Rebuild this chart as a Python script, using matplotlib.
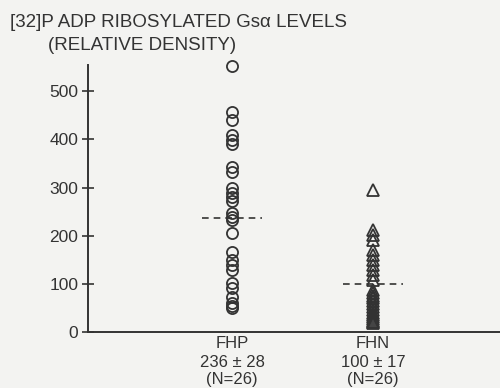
import matplotlib.pyplot as plt

# values (relative density)
groups = ["FHP", "FHN"]
stats = ["236 \u00b1 28", "100 \u00b1 17"]
counts = ["(N=26)", "(N=26)"]
means = [236, 100]

fhp = [552, 456, 440, 409, 398, 390, 342, 332, 299, 288, 280, 272, 247,
       239, 232, 205, 166, 149, 139, 129, 102, 91, 73, 60, 55, 50]
fhn = [295, 212, 201, 191, 170, 160, 149, 139, 129, 118, 108,
       88, 82, 76, 70, 64, 58, 52, 46, 40, 36, 32, 28, 24, 20, 18]

ink = "#333333"
plt.rcParams['font.family'] = ['Liberation Sans', 'DejaVu Sans']

fig = plt.figure(figsize=(5, 3.88), dpi=100)
fig.patch.set_facecolor("#f3f3f1")
ax = fig.add_axes([0.176, 0.144, 0.824, 0.688])
ax.set_facecolor("#f3f3f1")

ax.plot([1] * len(fhp), fhp, linestyle="none", marker="o", markersize=8,
        markerfacecolor="none", markeredgecolor=ink, markeredgewidth=1.3,
        clip_on=False)
ax.plot([2] * len(fhn), fhn, linestyle="none", marker="^", markersize=8,
        markerfacecolor="none", markeredgecolor=ink, markeredgewidth=1.3,
        clip_on=False)

for i, m in enumerate(means):
    ax.plot([i + 1 - 0.21, i + 1 + 0.21], [m, m], linestyle=(0, (4, 3)),
            color=ink, linewidth=1.2)

ax.set_xlim(-0.021, 2.90)
ax.set_ylim(0, 554)
ax.set_yticks([0, 100, 200, 300, 400, 500])
ax.tick_params(axis="y", direction="inout", length=8, width=1.2,
               colors=ink, labelsize=12.5, pad=3)
ax.set_xticks([])
for s in ["top", "right"]:
    ax.spines[s].set_visible(False)
for s in ["left", "bottom"]:
    ax.spines[s].set_color(ink)
    ax.spines[s].set_linewidth(1.4)

# three label rows under each group (x in data, y in axes fraction)
trans = ax.get_xaxis_transform()
row_y = [-0.041, -0.112, -0.178]
for i, g in enumerate(groups):
    rows = [g, stats[i], counts[i]]
    for k, txt in enumerate(rows):
        ax.text(i + 1, row_y[k], txt, transform=trans,
                ha="center", va="center", fontsize=12, color=ink)

fig.text(0.02, 0.965, "[32]P ADP RIBOSYLATED Gs\u03b1 LEVELS", ha="left",
         va="top", fontsize=13.5, color=ink)
fig.text(0.095, 0.905, "(RELATIVE DENSITY)", ha="left", va="top",
         fontsize=13.5, color=ink)

fig.savefig("out.png", dpi=100, facecolor=fig.get_facecolor())
